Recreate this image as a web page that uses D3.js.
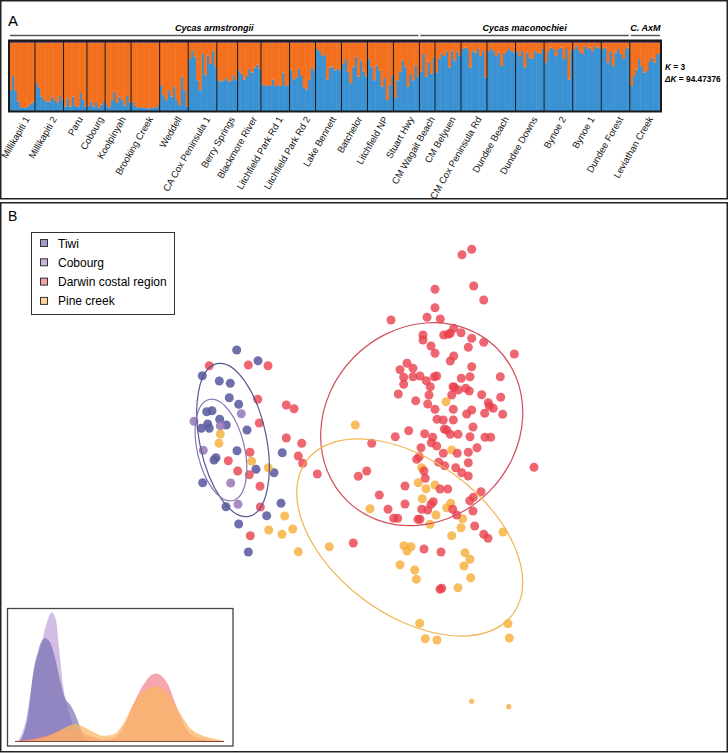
<!DOCTYPE html>
<html>
<head>
<meta charset="utf-8">
<script src="https://d3js.org/d3.v7.min.js"></script>
<style>
  body { margin: 0; background: #fff; }
  text { font-family: "Liberation Sans", Arial, sans-serif; }
</style>
</head>
<body>
<svg id="fig" width="728" height="753"></svg>
<script>
// ---------- panel A : STRUCTURE (K = 3) ----------
var popNames = ["Millikapiti 1", "Millikapiti 2", "Paru", "Cobourg", "Koolpinyah", "Brooking Creek",
  "Weddell", "CA Cox Peninsula 1", "Berry Springs", "Blackmore River", "Litchfield Park Rd 1",
  "Litchfield Park Rd 2", "Lake Bennett", "Batchelor", "Litchfield NP", "Stuart Hwy",
  "CM Wagait Beach", "CM Belyuen", "CM Cox Peninsula Rd", "Dundee Beach", "Dundee Downs",
  "Bynoe 2", "Bynoe 1", "Dundee Forest", "Leviathan Creek"];

// membership in the "blue" cluster, one value per individual
var popBlue = [
  [0.30, 0.50, 0.29, 0.14, 0.06, 0.05, 0.06, 0.08, 0.11, 0.14],
  [0.40, 0.33, 0.21, 0.16, 0.14, 0.14, 0.21, 0.16, 0.12, 0.22, 0.16],
  [0.07, 0.18, 0.07, 0.21, 0.08, 0.07, 0.26, 0.16, 0.07],
  [0.08, 0.14, 0.07, 0.12, 0.05, 0.10, 0.15],
  [0.09, 0.06, 0.16, 0.28, 0.12, 0.21, 0.16, 0.08, 0.22, 0.12],
  [0.14, 0.08, 0.06, 0.05, 0.06, 0.05, 0.04, 0.05, 0.06, 0.05, 0.09],
  [0.37, 0.23, 0.16, 0.30, 0.21, 0.35, 0.16, 0.09, 0.49, 0.30, 0.07],
  [0.74, 0.86, 0.77, 0.44, 0.30, 0.81, 0.51, 0.79, 0.67, 0.86, 0.63],
  [0.44, 0.42, 0.44, 0.47, 0.42, 0.44, 0.51, 0.44],
  [0.58, 0.53, 0.45, 0.50, 0.60, 0.55, 0.62, 0.66, 0.60],
  [0.38, 0.36, 0.37, 0.36, 0.45, 0.36, 0.37, 0.36, 0.55, 0.36, 0.38],
  [0.59, 0.45, 0.48, 0.60, 0.50, 0.34, 0.31, 0.45, 0.62, 0.58],
  [0.88, 0.85, 0.78, 0.80, 0.45, 0.62, 0.63, 0.58, 0.60, 0.58],
  [0.67, 0.74, 0.56, 0.40, 0.63, 0.77, 0.49, 0.72, 0.56, 0.49],
  [0.74, 0.63, 0.44, 0.65, 0.58, 0.35, 0.47, 0.16, 0.37, 0.51],
  [0.19, 0.44, 0.56, 0.72, 0.63, 0.35, 0.53, 0.44, 0.65, 0.49],
  [0.56, 0.81, 0.49, 0.70, 0.53, 0.77],
  [0.55, 0.74, 0.81, 0.78, 0.84, 0.62, 0.86, 0.72, 0.84, 0.79],
  [0.88, 0.90, 0.88, 0.62, 0.85, 0.83, 0.88, 0.78, 0.85, 0.48],
  [0.85, 0.88, 0.85, 0.78, 0.83, 0.64, 0.81, 0.85, 0.88, 0.85, 0.83],
  [0.85, 0.78, 0.85, 0.62, 0.83, 0.76, 0.74, 0.85, 0.83, 0.81, 0.88],
  [0.69, 0.85, 0.90, 0.88, 0.78, 0.88, 0.90, 0.74, 0.88, 0.45, 0.85],
  [0.88, 0.92, 0.85, 0.81, 0.92, 0.88, 0.90, 0.85, 0.92, 0.90, 0.88],
  [0.88, 0.90, 0.69, 0.85, 0.64, 0.83, 0.88, 0.81, 0.74, 0.88, 0.90],
  [0.36, 0.50, 0.59, 0.74, 0.64, 0.55, 0.57, 0.71, 0.76, 0.69, 0.81, 0.81]
];
// third (dark) cluster, per population
var popNavy = [0.03, 0.03, 0.03, 0.03, 0.03, 0.03, 0.03, 0.03, 0.03, 0.03, 0.03, 0.03, 0.03,
  0.03, 0.03, 0.03, 0.03, 0.03, 0.03, 0.03, 0.03, 0.03, 0.03, 0.03, 0.03];

var groupNames = ["Cycas armstrongii", "Cycas maconochiei", "C. AxM"];
var groupFirstPop = [0, 16, 24];
var groupLastPop = [15, 23, 24];
var kLines = [["K", " = 3"], ["\u0394K", " = 94.47376"]];

// ---------- panel B : PCA ----------
var legendNames = ["Tiwi", "Cobourg", "Darwin costal region", "Pine creek"];

var tiwiScores = [[-14.33, 10.0], [-12.2, 8.93], [-17.77, 7.43], [-16.07, 6.9], [-14.97, 6.67],
  [-15.07, 5.23], [-14.13, 4.57], [-17.33, 3.83], [-16.8, 3.93], [-16.03, 3.07], [-17.23, 2.6],
  [-17.87, 2.17], [-17.07, 2.17], [-15.37, 2.5], [-13.3, 2.0], [-14.3, -0.07], [-9.77, -0.27],
  [-16.4, -0.77], [-16.6, -1.0], [-12.4, -1.93], [-10.6, -2.27], [-17.73, -3.27], [-15.4, -5.67],
  [-9.9, -5.33], [-11.33, -6.57], [-14.13, -7.4], [-13.17, -10.2]];

var cobourgScores = [[-13.87, 3.63], [-18.6, 2.87], [-15.97, 2.43], [-17.67, -0.03],
  [-14.93, -3.3], [-14.2, -5.43]];

var darwinScores = [[-17.07, 8.43], [-13.17, 8.5], [-11.2, 8.43], [-12.23, 5.07], [-9.37, 4.5],
  [-8.6, 4.13], [-12.07, 2.7], [-9.37, 1.2], [-7.83, 0.67], [-13.0, -0.23], [-8.17, -0.6],
  [-7.73, -1.33], [-15.17, -1.07], [-14.23, -2.1], [-13.07, -2.47], [-6.27, -2.4], [-12.0, -3.63],
  [-11.97, -5.7], [-12.97, -8.57], [-2.67, -9.3], [-0.83, 0.67], [-2.17, -2.63], [-1.33, -2.1],
  [-0.07, -4.5],
  [8.2, 19.53], [9.17, 20.07], [5.5, 16.07], [9.37, 16.4], [10.37, 15.0], [5.5, 14.23], [1.1, 13.0],
  [4.7, 13.27], [6.03, 13.1], [7.37, 12.17], [4.3, 11.5], [4.3, 11.0], [6.37, 11.5], [6.83, 11.57],
  [7.03, 11.67], [8.1, 11.73], [9.17, 11.17], [10.37, 10.77], [5.1, 10.4], [8.83, 10.27], [5.5, 9.67],
  [7.37, 9.4], [7.03, 8.9], [13.43, 9.6], [2.7, 8.67], [2.0, 8.03], [3.3, 8.17], [9.17, 8.33],
  [2.37, 7.27], [3.3, 7.33], [4.0, 7.4], [5.43, 7.33], [5.67, 7.4], [9.0, 7.33], [8.13, 7.17],
  [12.03, 7.33], [2.37, 6.57], [4.63, 6.93], [5.03, 6.33], [1.83, 5.6], [4.9, 5.5], [7.3, 6.33],
  [7.43, 6.27], [7.83, 6.0], [8.57, 6.17], [8.93, 5.9], [7.17, 5.5], [10.17, 5.53], [12.07, 5.27],
  [3.57, 4.93], [4.77, 4.6], [10.83, 4.73], [10.93, 4.4], [11.33, 4.17], [5.5, 4.07], [7.33, 4.07],
  [9.17, 4.0], [8.67, 3.6], [10.47, 3.67], [12.27, 3.57], [5.7, 3.07], [6.33, 3.0], [7.33, 3.0],
  [9.3, 2.3], [6.43, 2.1], [6.67, 2.0], [2.87, 1.93], [1.53, 1.33], [4.47, 1.63], [5.27, 1.27],
  [7.03, 1.57], [7.8, 1.57], [9.0, 1.33], [10.5, 1.27], [11.07, 1.27], [15.4, -1.73], [5.13, 0.73],
  [5.67, 0.4], [4.1, 0.23], [9.7, 0.23], [6.33, -0.33], [7.73, -0.33], [8.83, -0.23], [3.67, -0.93],
  [3.93, -0.67], [5.87, -1.23], [6.47, -1.57], [8.83, -1.27], [7.57, -1.77], [8.17, -2.27],
  [8.83, -2.6], [4.4, -2.1], [4.53, -2.83], [6.0, -3.9], [6.77, -3.9], [2.5, -3.6], [10.1, -4.17],
  [9.33, -4.73], [8.97, -5.07], [0.8, -5.93], [2.5, -5.4], [4.17, -5.93], [4.77, -6.0], [5.33, -5.17],
  [5.1, -5.43], [7.27, -5.93], [7.67, -6.5], [1.37, -6.83], [1.77, -6.83], [3.8, -6.93], [4.0, -6.93],
  [9.3, -6.1], [9.47, -7.6], [10.37, -8.43], [10.8, -8.83], [4.4, -9.9], [6.1, -10.2], [6.17, -13.83],
  [6.0, -13.93]];

var pineScores = [[-15.97, 1.6], [-16.1, 0.67], [-12.83, -1.13], [-11.17, -1.77], [-9.53, -6.6],
  [-11.13, -8.0], [-9.8, -8.43], [-8.73, -7.9], [-8.17, -10.17], [-5.07, -9.67], [-2.47, 2.5],
  [-1.0, -5.87], [6.6, 4.83], [7.17, 0.0], [4.17, -1.77], [3.83, -3.27], [4.6, -3.87], [5.5, -3.5],
  [4.23, -4.87], [6.67, -5.77], [7.07, -5.33], [5.6, -6.5], [5.0, -7.43], [8.27, -6.87], [8.1, -7.77],
  [7.17, -8.57], [12.3, -8.2], [2.4, -9.57], [3.1, -9.67], [2.7, -10.1], [8.5, -10.27], [9.0, -10.93],
  [8.4, -11.6], [2.0, -11.47], [3.47, -12.0], [3.63, -12.93], [9.07, -12.77], [7.8, -13.77],
  [3.97, -17.33], [4.53, -18.87], [5.7, -19.0], [12.8, -17.37], [12.93, -18.8]];
var pineSmallScores = [[9.17, -25.13], [12.87, -25.67]];

// confidence ellipses: centre, semi-axes, angle (deg, data space)
var ellCentre = [[-14.7, 1.0], [-15.9, 0.0], [4.17, 2.58], [2.97, -8.75]];
var ellAxes = [[7.8, 3.33], [5.19, 2.36], [10.69, 9.53], [12.86, 7.71]];
var ellAngle = [-78.2, -76.8, 46, -36.6];

// inset density curves
var tiwiDens = [[-4.0, 0], [-3.67, 0.21], [-3.47, 0.52], [-3.33, 0.64], [-3.2, 0.74], [-3.0, 0.79],
  [-2.8, 0.76], [-2.6, 0.64], [-2.4, 0.47], [-2.2, 0.33], [-2.0, 0.28], [-1.8, 0.21], [-1.6, 0.11],
  [-1.4, 0.02], [-1.27, 0]];
var cobourgDens = [[-4.07, 0], [-3.73, 0.19], [-3.53, 0.44], [-3.4, 0.61], [-3.2, 0.71], [-2.93, 0.91],
  [-2.73, 0.99], [-2.56, 0.93], [-2.43, 0.70], [-2.27, 0.42], [-2.07, 0.24], [-1.87, 0.12],
  [-1.67, 0.05], [-1.47, 0]];
var darwinDens = [[-4.2, 0], [-3.47, 0.02], [-2.8, 0.05], [-2.27, 0.08], [-1.87, 0.09], [-1.47, 0.06],
  [-1.07, 0.03], [-0.67, 0.01], [-0.27, 0.02], [0.13, 0.10], [0.53, 0.28], [0.93, 0.43], [1.27, 0.51],
  [1.44, 0.52], [1.67, 0.50], [1.93, 0.43], [2.27, 0.26], [2.6, 0.11], [2.93, 0.04], [3.47, 0.01],
  [4.0, 0]];
var pineDens = [[-4.0, 0], [-3.2, 0.02], [-2.53, 0.07], [-2.13, 0.11], [-1.8, 0.13], [-1.47, 0.11],
  [-1.07, 0.07], [-0.67, 0.04], [-0.27, 0.05], [0.13, 0.13], [0.53, 0.28], [0.93, 0.38], [1.4, 0.42],
  [1.8, 0.39], [2.13, 0.30], [2.47, 0.19], [2.8, 0.10], [3.2, 0.05], [3.73, 0.02], [4.27, 0]];

// ---------- drawing ----------
var svg = d3.select("#fig");
svg.append("rect").attr("width", 728).attr("height", 753).attr("fill", "#fff");

// panel frames
svg.append("rect").attr("x", 0.75).attr("y", 0.75).attr("width", 726.5).attr("height", 198)
  .attr("fill", "none").attr("stroke", "#222").attr("stroke-width", 1.5);
svg.append("rect").attr("x", 0.75).attr("y", 202.75).attr("width", 726.5).attr("height", 549)
  .attr("fill", "none").attr("stroke", "#222").attr("stroke-width", 1.5);

svg.append("text").attr("x", 8).attr("y", 26).attr("font-size", 15).text("A");
svg.append("text").attr("x", 8).attr("y", 221).attr("font-size", 14).text("B");

// STRUCTURE bars
var inds = [];
popBlue.forEach(function(vals, i) {
  vals.forEach(function(b, j) {
    inds.push({ pop: i, id: i + "_" + j, q: [b, 1 - b - popNavy[i], popNavy[i]] });
  });
});
var xb = d3.scaleBand().domain(inds.map(d => d.id)).range([9, 661]);
var yb = d3.scaleLinear().domain([0, 1]).range([111.5, 40.5]);
var kColors = ["#3a92d3", "#f3701f", "#2e1d4a"];
var series = d3.stack().keys([0, 1, 2]).value((d, k) => d.q[k])(inds);

var gA = svg.append("g");
gA.selectAll("g.layer").data(series).join("g").attr("fill", (d, i) => kColors[i])
  .selectAll("rect").data(d => d).join("rect")
  .attr("x", d => xb(d.data.id)).attr("width", xb.bandwidth() + 0.5)
  .attr("y", d => yb(d[1])).attr("height", d => yb(d[0]) - yb(d[1]));

var popStart = popNames.map((p, i) => xb(i + "_0"));
var popEnd = popNames.map((p, i) => xb(i + "_" + (popBlue[i].length - 1)) + xb.bandwidth());

gA.selectAll("line.sep").data(popStart.slice(1)).join("line")
  .attr("x1", d => d).attr("x2", d => d).attr("y1", yb(1)).attr("y2", yb(0))
  .attr("stroke", "#1a1a1a").attr("stroke-width", 1);
gA.append("rect").attr("x", 9).attr("y", yb(1)).attr("width", 652).attr("height", yb(0) - yb(1))
  .attr("fill", "none").attr("stroke", "#1a1a1a").attr("stroke-width", 2);

gA.selectAll("text.pop").data(popNames).join("text")
  .attr("text-anchor", "end").attr("font-size", 9.5).attr("fill", "#111")
  .attr("transform", (d, i) => "translate(" + ((popStart[i] + popEnd[i]) / 2 + 8) + ",119) rotate(-60)")
  .text(d => d);

groupNames.forEach(function(name, gi) {
  var x0 = popStart[groupFirstPop[gi]] + 1, x1 = popEnd[groupLastPop[gi]] - 1;
  gA.append("line").attr("x1", x0).attr("x2", x1).attr("y1", 35.5).attr("y2", 35.5)
    .attr("stroke", "#555").attr("stroke-width", 1.5);
  gA.append("text").attr("x", (x0 + x1) / 2).attr("y", 31).attr("text-anchor", "middle")
    .attr("font-size", 9).attr("font-weight", "bold").attr("font-style", "italic").text(name);
});

kLines.forEach(function(parts, i) {
  var t = gA.append("text").attr("x", 665).attr("y", 70 + i * 11.5)
    .attr("font-size", 8.3).attr("font-weight", "bold");
  t.append("tspan").attr("font-style", "italic").text(parts[0]);
  t.append("tspan").text(parts[1]);
});

// PCA scatter
var xs = d3.scaleLinear().domain([-20, 20]).range([180, 580]);
var ys = d3.scaleLinear().domain([-20, 20]).range([650, 250]);
var gB = svg.append("g");

var dotSets = [
  { data: tiwiScores, fill: "#5b5c9f", op: 0.88, r: 4.5 },
  { data: cobourgScores, fill: "#9c7dbc", op: 0.9, r: 4.5 },
  { data: pineScores, fill: "#f6ae3a", op: 0.82, r: 4.5 },
  { data: pineSmallScores, fill: "#f6ae3a", op: 0.82, r: 2.6 },
  { data: darwinScores, fill: "#e8404c", op: 0.8, r: 4.5 }
];
dotSets.forEach(function(s) {
  gB.append("g").selectAll("circle").data(s.data).join("circle")
    .attr("cx", d => xs(d[0])).attr("cy", d => ys(d[1])).attr("r", s.r)
    .attr("fill", s.fill).attr("fill-opacity", s.op);
});

var ellColors = ["#55568f", "#8c74b4", "#d24f5c", "#f1b450"];
ellCentre.forEach(function(c, i) {
  gB.append("ellipse")
    .attr("transform", "translate(" + xs(c[0]) + "," + ys(c[1]) + ") rotate(" + (-ellAngle[i]) + ")")
    .attr("rx", xs(c[0] + ellAxes[i][0]) - xs(c[0]))
    .attr("ry", xs(c[0] + ellAxes[i][1]) - xs(c[0]))
    .attr("fill", "none").attr("stroke", ellColors[i]).attr("stroke-width", 1.2);
});

// legend
var legColors = ["#9b9cc9", "#cbb6df", "#f3a0a3", "#fdd29b"];
var lg = svg.append("g");
lg.append("rect").attr("x", 31.5).attr("y", 232.5).attr("width", 143).attr("height", 82)
  .attr("fill", "#fff").attr("stroke", "#333").attr("stroke-width", 1);
legendNames.forEach(function(n, i) {
  lg.append("rect").attr("x", 40.5).attr("y", 239.5 + i * 19.3).attr("width", 7).attr("height", 7)
    .attr("fill", legColors[i]).attr("stroke", "#333").attr("stroke-width", 1);
  lg.append("text").attr("x", 58).attr("y", 247.5 + i * 19.3).attr("font-size", 12).text(n);
});

// inset density plot
var gI = svg.append("g");
gI.append("rect").attr("x", 7.5).attr("y", 608.5).attr("width", 225.5).attr("height", 137.5)
  .attr("fill", "#fff").attr("stroke", "#444").attr("stroke-width", 1.3);
var xi = d3.scaleLinear().domain([-4.2, 4.2]).range([15, 225]);
var yi = d3.scaleLinear().domain([0, 1]).range([741, 611]);
var area = d3.area().x(d => xi(d[0])).y0(yi(0)).y1(d => yi(d[1])).curve(d3.curveMonotoneX);
var densSets = [
  { data: cobourgDens, fill: "#bfa3d8", op: 0.7 },
  { data: tiwiDens, fill: "#6e68ad", op: 0.65 },
  { data: darwinDens, fill: "#f07f8a", op: 0.7 },
  { data: pineDens, fill: "#fcb664", op: 0.75 }
];
densSets.forEach(function(s) {
  gI.append("path").datum(s.data).attr("d", area).attr("fill", s.fill).attr("fill-opacity", s.op);
});
gI.append("line").attr("x1", 15).attr("x2", 224).attr("y1", 741.5).attr("y2", 741.5)
  .attr("stroke", "#7a4a3a").attr("stroke-width", 1);
</script>
</body>
</html>
